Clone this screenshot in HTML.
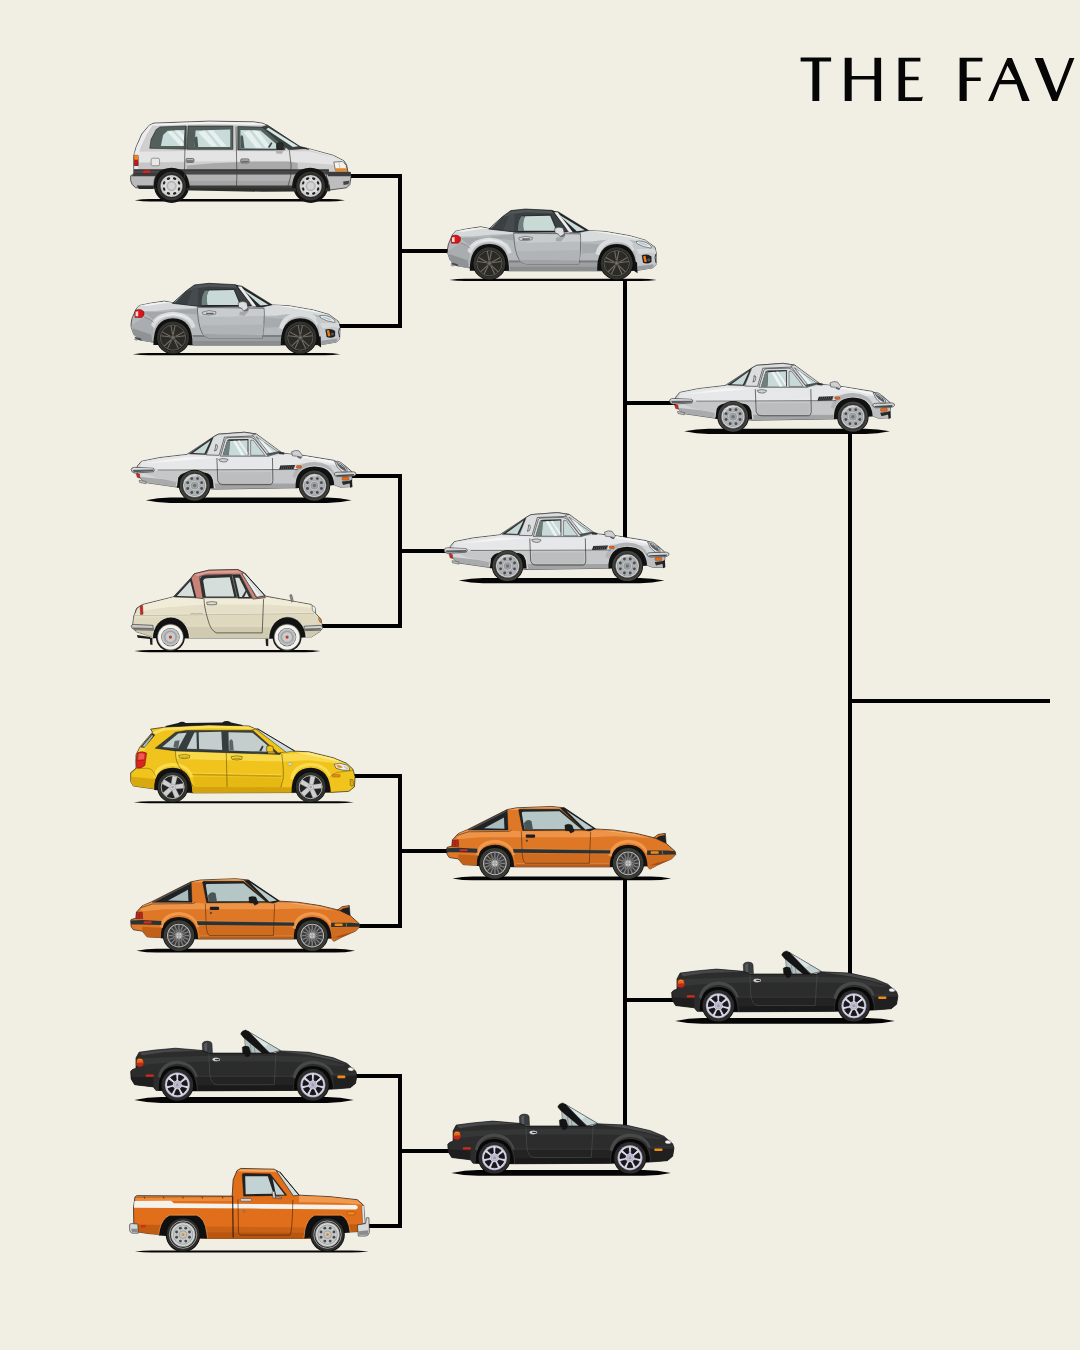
<!DOCTYPE html>
<html><head><meta charset="utf-8"><title>THE FAV</title>
<style>
html,body{margin:0;padding:0;background:#f1efe4;}
body{width:1080px;height:1350px;overflow:hidden;font-family:"Liberation Sans",sans-serif;}
svg{display:block}
</style></head><body>
<svg width="1080" height="1350" viewBox="0 0 1080 1350">
<rect width="1080" height="1350" fill="#f1efe4"/>
<defs>
<g id="c_mpv">
<path d="M66 406 Q101.0 400.5 136 400.5 L942 400.5 Q977.0 400.5 1012 406 Q977.0 411.5 942 411.5 L136 411.5 Q101.0 411.5 66 406 Z" fill="#050505"/>
<circle cx="232" cy="338" r="80" fill="#141414"/>
<circle cx="858" cy="338" r="80" fill="#141414"/>
<path d="M150 335 L950 335 L945 366 L640 368 L330 362 L160 358 Z" fill="#2e2e2c"/>
<path d="M62 272 L62 205 L72 168 L98 108 L132 68 L152 59 L400 50 L600 53 L640 59 L665 69 L808 165 L852 175 L960 204 L1008 229 L1020 247 L1025 276 L1025 290 L62 290 Z" fill="#cfcfcf" stroke="#1a1a1a" stroke-width="3"/>
<path d="M66 188 L300 184 L760 186 L850 186 L960 212 L1005 236 L1012 250 L960 246 L760 232 L300 232 L64 236 Z" fill="#e4e4e4"/>
<path d="M300 250 L420 240 L600 232 L760 232 L800 240 L800 270 L300 270 Z" fill="#a9a9a9"/>
<path d="M64 240 L300 236 L300 270 L62 272 Z" fill="#c6c6c6"/>
<path d="M135 68 L155 62 L400 53 L600 56 L640 62 L655 68 L400 62 L160 70 Z" fill="#f4f4f4"/>
<path d="M66 200 L74 168 L100 110 L132 70 L148 66 L120 110 L92 170 L84 200 Z" fill="#ececec"/>
<path d="M160 290 L930 290 L925 342 L640 342 L160 342 Z" fill="#b3b3b3"/>
<path d="M160 318 L930 318 L925 342 L160 342 Z" fill="#a4a4a4"/>
<path d="M62 268 L940 268 L940 289 L62 289 Z" fill="#484848"/>
<path d="M62 268 L940 268 L940 272 L62 272 Z" fill="#2a2a2a"/>
<path d="M160 340 L930 340 L930 352 L160 352 Z" fill="#3a3a3a"/>
<path d="M151 352 Q149 262 232 260 Q310 262 314 352 Z" fill="#141414"/>
<path d="M775 352 Q773 262 856 260 Q934 262 938 352 Z" fill="#141414"/>
<path d="M134 172 L140 132 L163 88 L180 76 L298 72 L298 176 Z" fill="#525f5b" stroke="#1a1a1a" stroke-width="2.5"/>
<path d="M306 72 L508 72 L508 177 L302 177 Z" fill="#525f5b" stroke="#1a1a1a" stroke-width="2.5"/>
<path d="M530 74 L640 77 L660 86 L745 168 L740 180 L530 180 Z" fill="#525f5b" stroke="#1a1a1a" stroke-width="2.5"/>
<path d="M184 162 L194 112 L214 93 L290 90 L286 162 Z" fill="#c9dbd8"/>
<path d="M336 166 L340 92 L496 88 L496 166 Z" fill="#c9dbd8"/>
<path d="M542 172 L542 90 L632 92 L702 152 L702 174 Z" fill="#c9dbd8"/>
<path d="M214 100 L232 93 L286 150 L286 162 L272 162 Z M246 92 L268 92 L288 114 L288 138Z" fill="#e6f1ef"/>
<path d="M352 100 L380 92 L440 164 L412 164 Z M395 92 L420 92 L480 164 L455 164Z" fill="#e6f1ef"/>
<path d="M556 100 L580 92 L640 170 L612 170 Z M596 92 L622 94 L680 170 L655 170Z" fill="#e6f1ef"/>
<path d="M336 166 L336 130 Q340 115 348 122 L352 166Z" fill="#4a5652"/>
<path d="M542 172 L542 120 Q548 108 554 120 L560 172Z" fill="#4a5652"/>
<path d="M665 168 L680 145 L686 148 L674 170Z" fill="#3a4643"/>
<path d="M640 76 L662 69 L812 165 L842 173 L760 179 L736 160 Z" fill="#3a4240" stroke="#1a1a1a" stroke-width="2"/>
<path d="M668 80 L802 163 L778 166 L658 87 Z" fill="#d9e8e5"/>
<path d="M706 150 Q720 142 733 150 L736 176 Q722 184 706 176 Z" fill="#2a2a2a" stroke="#111" stroke-width="2"/>
<path d="M700 182 L738 180 L728 198 L704 196Z" fill="#b0b0b0"/>
<path d="M296 74 L292 180 L290 300 L292 342" fill="none" stroke="#3a3a3a" stroke-width="3"/>
<path d="M522 74 L524 180 L526 300 L524 342" fill="none" stroke="#3a3a3a" stroke-width="3"/>
<path d="M762 182 L770 250 L768 300 L756 342" fill="none" stroke="#3a3a3a" stroke-width="3"/>
<path d="M808 168 L850 178" fill="none" stroke="#222" stroke-width="3"/>
<rect x="297" y="218" width="36" height="18" rx="6" fill="#b5b5b5" stroke="#2a2a2a" stroke-width="2.5"/>
<rect x="543" y="220" width="38" height="18" rx="6" fill="#b5b5b5" stroke="#2a2a2a" stroke-width="2.5"/>
<rect x="300" y="226" width="30" height="7" rx="3" fill="#6a6a6a"/>
<rect x="546" y="228" width="32" height="7" rx="3" fill="#6a6a6a"/>
<rect x="140" y="217" width="38" height="34" rx="7" fill="#e8e8e8" stroke="#555" stroke-width="2.5"/>
<rect x="64" y="204" width="18" height="48" rx="3" fill="#c8161a" stroke="#222" stroke-width="2"/>
<rect x="64" y="204" width="18" height="20" rx="3" fill="#f08a1c"/>
<rect x="66" y="252" width="16" height="14" rx="2" fill="#e9e9e9"/>
<rect x="104" y="272" width="32" height="11" rx="3" fill="#e02020"/>
<path d="M62 288 L165 288 Q150 310 152 350 L70 350 Q50 335 48 318 L48 296 Z" fill="#b9b9b9" stroke="#1a1a1a" stroke-width="3"/>
<path d="M62 288 L165 288 L160 298 L52 298Z" fill="#3c3c3c"/>
<path d="M75 340 L152 340 L152 356 L85 356 Z" fill="#2c2c2c"/>
<path d="M935 280 L1036 280 L1040 300 L1034 336 L1020 350 L945 360 Q940 320 928 296 Z" fill="#bdbdbd" stroke="#1a1a1a" stroke-width="3"/>
<path d="M930 279 L1037 279 L1040 298 L936 298 Z" fill="#3c3c3c"/>
<path d="M1004 322 L1032 318 L1028 334 L1006 338Z" fill="#444"/>
<path d="M962 234 L1004 232 L1018 250 L1022 274 L970 274 Z" fill="#f3f3ee" stroke="#222" stroke-width="2.5"/>
<path d="M968 262 L1020 262 L1022 274 L970 274 Z" fill="#f0861a"/>
<path d="M985 236 L990 262" fill="none" stroke="#888" stroke-width="2"/>
<path d="M852 178 L960 208 L1006 232" fill="none" stroke="#f2f2f2" stroke-width="4"/>
<circle cx="232" cy="342" r="68" fill="#0b0b0b"/>
<circle cx="232" cy="342" r="65" fill="#33332f"/>
<circle cx="232" cy="342" r="53" fill="#151515"/>
<circle cx="232" cy="342" r="50" fill="#d9d9d9" stroke="#555" stroke-width="2"/>
<circle cx="232" cy="342" r="44" fill="#c6c6c6"/>
<circle cx="232" cy="342" r="40" fill="#dcdcdc"/>
<ellipse cx="265.3" cy="355.8" rx="8" ry="5" fill="#222" transform="rotate(112.5 265.3 355.8)"/>
<ellipse cx="245.8" cy="375.3" rx="8" ry="5" fill="#222" transform="rotate(157.5 245.8 375.3)"/>
<ellipse cx="218.2" cy="375.3" rx="8" ry="5" fill="#222" transform="rotate(202.5 218.2 375.3)"/>
<ellipse cx="198.7" cy="355.8" rx="8" ry="5" fill="#222" transform="rotate(247.5 198.7 355.8)"/>
<ellipse cx="198.7" cy="328.2" rx="8" ry="5" fill="#222" transform="rotate(292.5 198.7 328.2)"/>
<ellipse cx="218.2" cy="308.7" rx="8" ry="5" fill="#222" transform="rotate(337.5 218.2 308.7)"/>
<ellipse cx="245.8" cy="308.7" rx="8" ry="5" fill="#222" transform="rotate(382.5 245.8 308.7)"/>
<ellipse cx="265.3" cy="328.2" rx="8" ry="5" fill="#222" transform="rotate(427.5 265.3 328.2)"/>
<circle cx="232" cy="342" r="21" fill="#bfbfbf" stroke="#8a8a8a" stroke-width="2"/>
<circle cx="232" cy="342" r="15" fill="#d5d5d5"/>
<circle cx="858" cy="342" r="68" fill="#0b0b0b"/>
<circle cx="858" cy="342" r="65" fill="#33332f"/>
<circle cx="858" cy="342" r="53" fill="#151515"/>
<circle cx="858" cy="342" r="50" fill="#d9d9d9" stroke="#555" stroke-width="2"/>
<circle cx="858" cy="342" r="44" fill="#c6c6c6"/>
<circle cx="858" cy="342" r="40" fill="#dcdcdc"/>
<ellipse cx="891.3" cy="355.8" rx="8" ry="5" fill="#222" transform="rotate(112.5 891.3 355.8)"/>
<ellipse cx="871.8" cy="375.3" rx="8" ry="5" fill="#222" transform="rotate(157.5 871.8 375.3)"/>
<ellipse cx="844.2" cy="375.3" rx="8" ry="5" fill="#222" transform="rotate(202.5 844.2 375.3)"/>
<ellipse cx="824.7" cy="355.8" rx="8" ry="5" fill="#222" transform="rotate(247.5 824.7 355.8)"/>
<ellipse cx="824.7" cy="328.2" rx="8" ry="5" fill="#222" transform="rotate(292.5 824.7 328.2)"/>
<ellipse cx="844.2" cy="308.7" rx="8" ry="5" fill="#222" transform="rotate(337.5 844.2 308.7)"/>
<ellipse cx="871.8" cy="308.7" rx="8" ry="5" fill="#222" transform="rotate(382.5 871.8 308.7)"/>
<ellipse cx="891.3" cy="328.2" rx="8" ry="5" fill="#222" transform="rotate(427.5 891.3 328.2)"/>
<circle cx="858" cy="342" r="21" fill="#bfbfbf" stroke="#8a8a8a" stroke-width="2"/>
<circle cx="858" cy="342" r="15" fill="#d5d5d5"/>

</g>
<g id="c_nc">
<path d="M58 379 Q93.0 374.0 128 374.0 L922 374.0 Q957.0 374.0 992 379 Q957.0 384.0 922 384.0 L128 384.0 Q93.0 384.0 58 379 Z" fill="#050505"/>
<path d="M50 240 L54 218 L72 176 L86 160 L140 149 L200 140 L240 148 L330 150 L545 160 L680 157 L760 161 L870 180 L940 200 L984 232 L990 262 L988 310 L975 324 L905 336 L740 338 L330 338 L160 326 L96 316 L62 290 L50 256 Z" fill="#b5b9bb" stroke="#1a1a1a" stroke-width="3"/>
<path d="M74 174 L88 160 L140 150 L200 142 L240 149 L346 164 L346 172 L240 176 L160 184 L84 184 Z" fill="#d6d9da"/>
<path d="M88 161 L140 151 L200 143 L236 149 L200 150 L120 162Z" fill="#f2f3f3"/>
<path d="M108 190 L200 188 L300 178 L346 174 L346 200 L300 196 L230 192 L180 200 L150 224 Z" fill="#a4a8aa"/>
<path d="M52 250 L110 212 L150 232 L146 326 L96 316 L62 290 L50 256Z" fill="#a9adaf"/>
<path d="M56 262 L140 290 L146 326 L96 316 L62 290Z" fill="#8f9395"/>
<path d="M140 250 Q150 196 238 188 Q322 192 340 256 L322 262 Q310 214 238 208 Q170 212 156 262 Z" fill="#d9dcdd"/>
<path d="M150 240 Q170 200 238 196 Q300 198 326 236 Q300 206 238 202 Q176 206 150 240Z" fill="#eceeee"/>
<path d="M650 166 L690 158 L760 162 L870 181 L940 201 L982 233 L940 214 L880 200 L800 196 L740 200 L700 206 L652 206 Z" fill="#d8dbdc"/>
<path d="M690 159 L760 163 L870 182 L936 202 L880 190 L800 176 Z" fill="#f1f2f2"/>
<path d="M653 214 L733 219 L718 256 L653 260 Z" fill="#a7abad"/>
<path d="M716 262 Q726 198 812 188 Q890 192 900 240 L884 250 Q870 210 812 208 Q746 212 734 268 Z" fill="#d9dcdd"/>
<path d="M896 210 L940 203 L982 234 L990 262 L988 310 L975 324 L905 336 L900 300 Q900 250 880 222 Z" fill="#c6c9cb"/>
<path d="M900 240 L984 240 L988 262 L960 256 L912 262Z" fill="#d6d9da"/>
<path d="M905 318 L978 308 L975 324 L905 336Z" fill="#9a9ea0"/>
<path d="M326 292 L744 292 L740 338 L330 338 Z" fill="#9ca0a2"/>
<path d="M326 292 L744 292 L744 301 L327 301 Z" fill="#7b7f81"/>
<path d="M328 320 L742 320 L740 338 L330 338 Z" fill="#8a8e90"/>
<path d="M150.5 338 Q148.5 218 238.5 217 Q328.5 218 326.5 338 Z" fill="#111"/>
<path d="M723.5 338 Q721.5 218 811.5 217 Q901.5 218 899.5 338 Z" fill="#111"/>
<path d="M348 168 Q350 250 372 288 Q385 306 410 308 L640 308 Q652 250 648 172 Z" fill="#b9bdbf" stroke="#333" stroke-width="2.5"/>
<path d="M351 172 L646 176 L648 206 L420 212 L356 204 Z" fill="#c9cccd"/>
<path d="M372 288 Q385 306 410 308 L640 308 L642 290 L376 288 Z" fill="#a0a4a6"/>
<path d="M360 250 L646 246 L644 290 L376 288 Z" fill="#b0b4b6"/>
<path d="M236 150 L298 94 L335 67 L400 60 L520 66 L548 80 L560 95 L590 162 L360 164 Z" fill="#3b4043" stroke="#141414" stroke-width="3"/>
<path d="M300 96 L336 70 L400 63 L518 69 L538 80 L400 74 L345 82 Z" fill="#4f5659"/>
<path d="M330 80 L352 80 L350 160 L300 156 Z" fill="#454b4e"/>
<path d="M240 148 L298 98 L284 110 L252 142 Z" fill="#a9bab8"/>
<path d="M366 162 Q362 110 385 88 L515 84 L548 162 Z" fill="#2b3032"/>
<path d="M392 158 Q384 112 400 92 L512 90 L540 158 Z" fill="#c8d9d6"/>
<path d="M367 160 Q364 120 382 92 L398 92 Q386 120 394 158Z" fill="#6f7f7c"/>
<path d="M366 162 L548 162" fill="none" stroke="#141414" stroke-width="3"/>
<path d="M522 70 L548 72 L684 156 L640 166 L600 165 Z" fill="#232628" stroke="#111" stroke-width="2"/>
<path d="M552 86 L668 156 L632 160 L570 104 Z" fill="#cbdcd9"/>
<path d="M530 74 L546 74 L614 164 L598 164 Z" fill="#ececec"/>
<path d="M532 148 Q550 136 570 146 L576 170 Q570 182 556 184 L548 172 L534 168 Z" fill="#dcdedf" stroke="#333" stroke-width="2.5"/>
<path d="M556 184 L576 170 L580 180 L562 192Z" fill="#6a6e70"/>
<path d="M540 188 L580 184 L560 206 L536 204Z" fill="#a4a8aa"/>
<path d="M370 190 Q400 176 432 188 L430 198 Q400 206 374 200 Z" fill="#d8dadb" stroke="#444" stroke-width="2.5"/>
<path d="M385 192 L422 192 L420 198 L388 199Z" fill="#5f6365"/>
<path d="M70 182 Q92 170 108 188 Q112 206 98 214 L68 214 Q62 198 70 182 Z" fill="#dc141a" stroke="#5a0a0a" stroke-width="2"/>
<path d="M70 188 L82 186 L82 208 L70 208Z" fill="#f8dada"/>
<path d="M110 212 Q140 222 152 236" fill="none" stroke="#6e7274" stroke-width="2.5"/>
<path d="M898 206 Q930 198 962 222 Q972 232 966 236 Q930 232 904 216 Z" fill="#eef3f4" stroke="#333" stroke-width="2.5"/>
<path d="M910 210 Q935 208 958 228 Q935 226 912 214Z" fill="#b3cad0"/>
<path d="M924 268 Q950 260 968 274 L968 298 Q950 310 930 302 Z" fill="#1e1e1e"/>
<path d="M930 272 L941 270 L947 298 L936 298Z" fill="#f07a1a"/>
<circle cx="956" cy="288" r="7" fill="#555"/>
<path d="M988 262 L984 278 L988 302" fill="none" stroke="#222" stroke-width="4"/>
<path d="M888 299 L903 299 L905 349 L892 340Z" fill="#111"/>
<path d="M66 300 L96 308 L96 318 L70 312Z" fill="#4a4a4a"/>
<path d="M66 306 L78 312 L76 320 L64 314Z" fill="#999"/>
<circle cx="238.5" cy="304" r="75" fill="#0b0b0b"/>
<circle cx="238.5" cy="304" r="72" fill="#34342f"/>
<circle cx="238.5" cy="304" r="61" fill="#151515"/>
<circle cx="238.5" cy="304" r="59" fill="#2b2a26"/>
<circle cx="238.5" cy="304" r="57" fill="none" stroke="#5f5d55" stroke-width="4"/>
<line x1="237.9" y1="295.0" x2="229.2" y2="249.8" stroke="#716e65" stroke-width="5"/>
<line x1="239.1" y1="295.0" x2="247.8" y2="249.8" stroke="#716e65" stroke-width="5"/>
<line x1="246.9" y1="300.6" x2="287.2" y2="278.4" stroke="#716e65" stroke-width="5"/>
<line x1="247.2" y1="301.8" x2="292.9" y2="296.1" stroke="#716e65" stroke-width="5"/>
<line x1="244.3" y1="310.9" x2="277.9" y2="342.4" stroke="#716e65" stroke-width="5"/>
<line x1="243.3" y1="311.6" x2="262.8" y2="353.3" stroke="#716e65" stroke-width="5"/>
<line x1="233.7" y1="311.6" x2="214.2" y2="353.3" stroke="#716e65" stroke-width="5"/>
<line x1="232.7" y1="310.9" x2="199.1" y2="342.4" stroke="#716e65" stroke-width="5"/>
<line x1="229.8" y1="301.8" x2="184.1" y2="296.1" stroke="#716e65" stroke-width="5"/>
<line x1="230.1" y1="300.6" x2="189.8" y2="278.4" stroke="#716e65" stroke-width="5"/>
<circle cx="238.5" cy="304" r="12" fill="#5b5951" stroke="#2a2924" stroke-width="2"/>
<circle cx="238.5" cy="304" r="5" fill="#77746a"/>
<circle cx="811.5" cy="304" r="75" fill="#0b0b0b"/>
<circle cx="811.5" cy="304" r="72" fill="#34342f"/>
<circle cx="811.5" cy="304" r="61" fill="#151515"/>
<circle cx="811.5" cy="304" r="59" fill="#2b2a26"/>
<circle cx="811.5" cy="304" r="57" fill="none" stroke="#5f5d55" stroke-width="4"/>
<line x1="810.9" y1="295.0" x2="802.2" y2="249.8" stroke="#716e65" stroke-width="5"/>
<line x1="812.1" y1="295.0" x2="820.8" y2="249.8" stroke="#716e65" stroke-width="5"/>
<line x1="819.9" y1="300.6" x2="860.2" y2="278.4" stroke="#716e65" stroke-width="5"/>
<line x1="820.2" y1="301.8" x2="865.9" y2="296.1" stroke="#716e65" stroke-width="5"/>
<line x1="817.3" y1="310.9" x2="850.9" y2="342.4" stroke="#716e65" stroke-width="5"/>
<line x1="816.3" y1="311.6" x2="835.8" y2="353.3" stroke="#716e65" stroke-width="5"/>
<line x1="806.7" y1="311.6" x2="787.2" y2="353.3" stroke="#716e65" stroke-width="5"/>
<line x1="805.7" y1="310.9" x2="772.1" y2="342.4" stroke="#716e65" stroke-width="5"/>
<line x1="802.8" y1="301.8" x2="757.1" y2="296.1" stroke="#716e65" stroke-width="5"/>
<line x1="803.1" y1="300.6" x2="762.8" y2="278.4" stroke="#716e65" stroke-width="5"/>
<circle cx="811.5" cy="304" r="12" fill="#5b5951" stroke="#2a2924" stroke-width="2"/>
<circle cx="811.5" cy="304" r="5" fill="#77746a"/>

</g>
<g id="c_cosmo">
<path d="M116 406 Q171.0 394.0 226 394.0 L932 394.0 Q987.0 394.0 1042 406 Q987.0 418.0 932 418.0 L226 418.0 Q171.0 418.0 116 406 Z" fill="#050505"/>
<path d="M78 252 L96 231 L180 214 L300 200 L420 121 L442 109 L560 100 L612 108 L722 190 L745 196 L830 205 L960 226 L1012 250 L1042 276 L1044 300 L1040 345 L992 347 L962 336 L790 350 L430 356 L250 346 L112 326 L86 302 L76 280 Z" fill="#d4d5d7" stroke="#1a1a1a" stroke-width="3"/>
<path d="M98 232 L180 216 L300 202 L440 205 L700 205 L745 198 L830 207 L958 228 L1008 250 L960 248 L820 240 L700 262 L170 264 L90 262 Z" fill="#e6e7e8"/>
<path d="M110 240 L300 212 L430 214 L300 226 Z" fill="#f4f4f5"/>
<path d="M750 200 L830 208 L955 230 L990 246 L900 228 Z" fill="#f6f6f7"/>
<path d="M86 300 L112 326 L250 346 L256 320 L200 312 Z" fill="#a9aaac"/>
<path d="M425 330 L795 330 L790 350 L430 356 Z" fill="#a2a3a5"/>
<path d="M170 274 L800 272 L800 330 L425 330 L420 300 L395 282 L290 282 L262 300 L256 325 L150 300 L100 280 Z" fill="#c6c7c9"/>
<path d="M960 290 L1042 300 L1040 345 L992 347 L962 336 Z" fill="#bdbec0"/>
<path d="M256 350 L262 305 Q275 282 300 282 L385 282 Q410 286 418 315 L422 352 Z" fill="#121212"/>
<path d="M790 352 Q786 256 875 254 Q960 256 964 338 Z" fill="#121212"/>
<path d="M776 300 Q790 236 875 234 Q950 238 968 290 L960 296 Q944 254 875 250 Q806 254 792 306Z" fill="#b2b4b6"/>
<path d="M170 270 L800 268" fill="none" stroke="#3a3a3a" stroke-width="3"/>
<path d="M170 265 L800 263" fill="none" stroke="#f5f5f5" stroke-width="3"/>
<path d="M312 197 L418 124 L410 150 L385 200 Z" fill="#2a2e30" stroke="#141414" stroke-width="2"/>
<path d="M328 194 L408 136 L380 196 Z" fill="#c7d9d6"/>
<path d="M420 121 L442 109 L560 100 L612 108 L620 116 L470 122 L446 204 L388 202 Z" fill="#dcdddf" stroke="#1a1a1a" stroke-width="2.5"/>
<path d="M428 158 Q440 150 438 170 Q436 186 424 184 M432 156 L426 184" fill="none" stroke="#444" stroke-width="3"/>
<path d="M452 208 L474 132 Q478 124 490 124 L585 122 Q600 124 610 136 L668 208 Z" fill="#d9d9db" stroke="#222" stroke-width="2.5"/>
<path d="M462 204 L482 138 Q486 132 494 132 L578 130 L578 204 Z" fill="#2b3032"/>
<path d="M490 204 L494 140 L574 136 L574 204 Z" fill="#c8dad7"/>
<path d="M462 204 L482 138 L494 136 L490 204Z" fill="#6f7f7c"/>
<path d="M508 140 L520 138 L560 204 L545 204Z M530 138 L538 137 L574 190 L574 204Z" fill="#ecf4f3"/>
<path d="M588 136 L600 136 L652 204 L588 204 Z" fill="#c8dad7" stroke="#222" stroke-width="2"/>
<path d="M596 112 L614 108 L726 190 L668 208 Z" fill="#d4d5d7" stroke="#141414" stroke-width="2"/>
<path d="M612 120 L714 190 L676 202 Z" fill="#c9dbd8" stroke="#2a2e30" stroke-width="2"/>
<path d="M622 128 L644 142 L694 196 L680 200Z" fill="#ecf4f3"/>
<path d="M660 196 L716 186 L722 192 L668 206Z" fill="#4a5254"/>
<path d="M712 186 L740 192 L738 200 L716 198Z" fill="#333"/>
<path d="M436 216 L440 318 Q444 336 462 336 L676 336 Q688 334 688 318 L686 216" fill="none" stroke="#2e2e2e" stroke-width="3"/>
<path d="M446 280 L680 280 L680 320 Q678 330 668 330 L462 330 Q448 330 446 318Z" fill="#bcbdbf"/>
<path d="M444 222 Q465 214 486 222 Q486 234 466 234 Q446 234 444 222Z" fill="#d0d1d3" stroke="#333" stroke-width="2.5"/>
<path d="M722 250 L788 248 L782 266 L716 268 Z" fill="#1f1f1f"/>
<path d="M731 250 L725 266" fill="none" stroke="#9a9a9a" stroke-width="2"/>
<path d="M740 250 L734 266" fill="none" stroke="#9a9a9a" stroke-width="2"/>
<path d="M749 250 L743 266" fill="none" stroke="#9a9a9a" stroke-width="2"/>
<path d="M758 250 L752 266" fill="none" stroke="#9a9a9a" stroke-width="2"/>
<path d="M767 250 L761 266" fill="none" stroke="#9a9a9a" stroke-width="2"/>
<path d="M776 250 L770 266" fill="none" stroke="#9a9a9a" stroke-width="2"/>
<path d="M785 250 L779 266" fill="none" stroke="#9a9a9a" stroke-width="2"/>
<rect x="794" y="250" width="22" height="12" rx="4" fill="#e8641a" stroke="#5a2a0a" stroke-width="1.5"/>
<path d="M772 188 Q790 178 806 184 L822 206 L812 216 L796 208 L776 206Z" fill="#cfd0d2" stroke="#333" stroke-width="2.5"/>
<path d="M800 206 L818 212 L814 220 L798 214Z" fill="#666"/>
<path d="M50 268 Q52 258 66 258 L150 262 Q160 270 150 278 L66 284 Q52 282 50 268Z" fill="#c9cacc" stroke="#1a1a1a" stroke-width="2.5"/>
<path d="M58 270 L150 268 L150 276 L62 280Z" fill="#5a5b5d"/>
<path d="M58 263 L148 264" fill="none" stroke="#f5f5f5" stroke-width="2.5"/>
<path d="M72 286 L88 288 L90 306 L78 304Z" fill="#d9211d" stroke="#333" stroke-width="1.5"/>
<path d="M86 316 L118 322 L116 332 L88 326Z" fill="#bdbdbd" stroke="#333" stroke-width="2"/>
<path d="M964 288 Q966 280 978 280 L1052 278 Q1066 282 1062 290 Q1058 298 1046 298 L978 300 Q966 298 964 288Z" fill="#d5d6d8" stroke="#1a1a1a" stroke-width="2.5"/>
<path d="M972 292 L1054 288 L1050 296 L976 298Z" fill="#4a4b4d"/>
<path d="M966 232 Q990 226 1010 250 Q1026 268 1022 278 L1000 278 Q975 262 966 232Z" fill="#e9eeee" stroke="#1a1a1a" stroke-width="2.5"/>
<path d="M972 234 Q996 236 1010 256 Q1020 270 1016 276 Q984 264 972 234Z" fill="#596063"/>
<path d="M980 240 Q996 244 1006 258" fill="none" stroke="#fff" stroke-width="2.5"/>
<rect x="1000" y="302" width="30" height="14" rx="4" fill="#ee6a14" stroke="#5a2a0a" stroke-width="1.5"/>
<path d="M998 322 L1034 318 L1036 330 L1004 338Z" fill="#2a2a2a"/>
<path d="M1032 318 L1044 314 L1046 346 L1036 350Z" fill="#1f1f1f"/>
<circle cx="336" cy="340" r="71" fill="#0b0b0b"/>
<circle cx="336" cy="340" r="68" fill="#3a3a36"/>
<circle cx="336" cy="340" r="55" fill="#151515"/>
<circle cx="336" cy="340" r="64" fill="none" stroke="#4a4a45" stroke-width="3"/>
<circle cx="336" cy="340" r="53" fill="#d9dadb" stroke="#555" stroke-width="2"/>
<circle cx="336" cy="340" r="47" fill="#8f9294"/>
<circle cx="336" cy="340" r="45" fill="#aeb1b3"/>
<circle cx="367.4" cy="353.0" r="6.5" fill="#4a4d50"/>
<circle cx="349.0" cy="371.4" r="6.5" fill="#4a4d50"/>
<circle cx="323.0" cy="371.4" r="6.5" fill="#4a4d50"/>
<circle cx="304.6" cy="353.0" r="6.5" fill="#4a4d50"/>
<circle cx="304.6" cy="327.0" r="6.5" fill="#4a4d50"/>
<circle cx="323.0" cy="308.6" r="6.5" fill="#4a4d50"/>
<circle cx="349.0" cy="308.6" r="6.5" fill="#4a4d50"/>
<circle cx="367.4" cy="327.0" r="6.5" fill="#4a4d50"/>
<circle cx="336" cy="340" r="24" fill="#c4c6c8" stroke="#85888a" stroke-width="2"/>
<circle cx="336" cy="340" r="16" fill="#a2a5a7" stroke="#7a7d80" stroke-width="2"/>
<circle cx="336" cy="340" r="8" fill="#6f7275"/>
<path d="M296 320 A45 45 0 0 1 346 296" fill="none" stroke="#e6e7e8" stroke-width="4"/>
<circle cx="875" cy="340" r="71" fill="#0b0b0b"/>
<circle cx="875" cy="340" r="68" fill="#3a3a36"/>
<circle cx="875" cy="340" r="55" fill="#151515"/>
<circle cx="875" cy="340" r="64" fill="none" stroke="#4a4a45" stroke-width="3"/>
<circle cx="875" cy="340" r="53" fill="#d9dadb" stroke="#555" stroke-width="2"/>
<circle cx="875" cy="340" r="47" fill="#8f9294"/>
<circle cx="875" cy="340" r="45" fill="#aeb1b3"/>
<circle cx="906.4" cy="353.0" r="6.5" fill="#4a4d50"/>
<circle cx="888.0" cy="371.4" r="6.5" fill="#4a4d50"/>
<circle cx="862.0" cy="371.4" r="6.5" fill="#4a4d50"/>
<circle cx="843.6" cy="353.0" r="6.5" fill="#4a4d50"/>
<circle cx="843.6" cy="327.0" r="6.5" fill="#4a4d50"/>
<circle cx="862.0" cy="308.6" r="6.5" fill="#4a4d50"/>
<circle cx="888.0" cy="308.6" r="6.5" fill="#4a4d50"/>
<circle cx="906.4" cy="327.0" r="6.5" fill="#4a4d50"/>
<circle cx="875" cy="340" r="24" fill="#c4c6c8" stroke="#85888a" stroke-width="2"/>
<circle cx="875" cy="340" r="16" fill="#a2a5a7" stroke="#7a7d80" stroke-width="2"/>
<circle cx="875" cy="340" r="8" fill="#6f7275"/>
<path d="M835 320 A45 45 0 0 1 885 296" fill="none" stroke="#e6e7e8" stroke-width="4"/>

</g>
<g id="c_r360">
<path d="M64 410 Q99.0 404.5 134 404.5 L832 404.5 Q867.0 404.5 902 410 Q867.0 415.5 832 415.5 L134 415.5 Q99.0 415.5 64 410 Z" fill="#050505"/>
<path d="M62 252 L76 216 L102 200 L240 166 L320 80 L334 62 L400 46 L530 43 L556 56 L652 162 L770 184 L860 200 L876 216 L880 240 L904 266 L910 296 L900 322 L862 346 L830 346 L655 351 L320 351 L146 346 L72 322 L56 300 Z" fill="#e4dfc6" stroke="#1a1a1a" stroke-width="3"/>
<path d="M104 202 L240 168 L372 172 L648 166 L770 186 L858 202 L872 216 L780 208 L650 200 L380 200 L200 214 L82 232 Z" fill="#f0ecd8"/>
<path d="M62 262 L380 250 L870 244 L882 250 L904 270 L908 296 L62 296 Z" fill="#ddd8be"/>
<path d="M72 300 L905 300 L900 322 L862 346 L830 346 L655 351 L320 351 L146 346 L72 322Z" fill="#cfcab0"/>
<path d="M146 352 A83 95 0 0 1 312 352 Z" fill="#121212"/>
<path d="M670 354 A83 95 0 0 1 837 348 Z" fill="#121212"/>
<path d="M146 352 A83 95 0 0 1 312 352" fill="none" stroke="#f6f3e4" stroke-width="3"/>
<path d="M670 354 A83 95 0 0 1 837 348" fill="none" stroke="#f6f3e4" stroke-width="3"/>
<path d="M64 250 L380 246 L872 240" fill="none" stroke="#8a8670" stroke-width="2"/>
<path d="M64 247 L380 243 L872 237" fill="none" stroke="#faf8ee" stroke-width="2"/>
<path d="M320 82 L334 62 L400 46 L530 43 L556 56 L612 168 L650 162 L654 170 L598 176 L540 66 L380 68 L358 76 L374 174 L340 170 Z" fill="#c88278" stroke="#1a1a1a" stroke-width="2.5"/>
<path d="M340 64 L400 50 L528 47 L548 56 L400 58 L345 72Z" fill="#dda096"/>
<path d="M242 166 L320 82 L342 170 Z" fill="#2a2e30" stroke="#1a1a1a" stroke-width="2"/>
<path d="M256 162 L316 96 L334 164 Z" fill="#d6dedc"/>
<path d="M374 170 L360 86 Q364 72 382 70 L502 66 L526 170 Z" fill="#2d3133" stroke="#1a1a1a" stroke-width="2"/>
<path d="M386 164 L374 92 Q378 82 392 82 L494 78 L514 164 Z" fill="#d6dedc"/>
<path d="M506 68 L540 68 L594 172 L530 172 Z" fill="#2d3133" stroke="#1a1a1a" stroke-width="2"/>
<path d="M518 80 L536 80 L580 166 L538 166 Z" fill="#d6dedc"/>
<path d="M548 166 L566 136 L572 140 L558 168Z" fill="#333"/>
<path d="M548 60 L560 58 L652 160 L616 168 Z" fill="#d8e1df" stroke="#1a1a1a" stroke-width="2.5"/>
<path d="M560 58 L652 160" fill="none" stroke="#111" stroke-width="4"/>
<path d="M566 84 L580 96 L628 160 L618 162Z" fill="#eef3f2"/>
<path d="M378 174 Q378 210 396 270 Q408 318 434 328 L640 328 L646 176" fill="none" stroke="#2e2e2e" stroke-width="3"/>
<path d="M390 190 Q412 184 436 190 L434 200 Q412 204 392 200Z" fill="#d8d8d4" stroke="#333" stroke-width="2.5"/>
<path d="M316 243 Q330 238 345 243 Q360 238 374 243" fill="none" stroke="#7a7660" stroke-width="2"/>
<path d="M90 206 L102 204 L104 244 L92 246Z" fill="#d6231f" stroke="#333" stroke-width="1.5"/>
<path d="M70 236 Q66 222 84 212" fill="none" stroke="#333" stroke-width="2"/>
<path d="M50 296 Q52 290 64 290 L148 294 L150 316 L66 314 Q52 310 50 296Z" fill="#c9cac8" stroke="#1a1a1a" stroke-width="2.5"/>
<path d="M56 304 L148 306 L148 314 L62 312Z" fill="#6a6b69"/>
<path d="M76 338 L136 346 L136 356 L80 350Z" fill="#1a1a1a"/>
<path d="M828 298 L900 294 Q912 296 912 304 Q912 314 900 316 L830 318Z" fill="#d0d1cf" stroke="#1a1a1a" stroke-width="2.5"/>
<path d="M832 308 L904 306 L902 314 L832 316Z" fill="#6a6b69"/>
<path d="M864 206 Q876 204 880 218 L880 236 Q872 238 866 226Z" fill="#e8ece9" stroke="#333" stroke-width="2"/>
<path d="M894 258 Q904 260 906 272 L904 282 Q896 280 894 268Z" fill="#e9841c" stroke="#333" stroke-width="1.5"/>
<path d="M764 160 Q770 148 774 160 L780 184 L772 190Z" fill="#8a8a86" stroke="#222" stroke-width="1.5"/>
<path d="M134 350 L146 350 L146 382 L136 380Z" fill="#1f1f1f"/>
<path d="M655 354 L667 354 L667 388 L657 386Z" fill="#1f1f1f"/>
<circle cx="227" cy="347" r="65" fill="#0f0f0f"/>
<circle cx="227" cy="347" r="61" fill="#2f2f2c"/>
<circle cx="227" cy="347" r="57" fill="#f4f3ee" stroke="#999" stroke-width="1.5"/>
<circle cx="227" cy="347" r="41" fill="#1a1a1a"/>
<circle cx="227" cy="347" r="38" fill="#bfc1c1" stroke="#e9e9e6" stroke-width="3"/>
<circle cx="227" cy="347" r="30" fill="#a4a8a9"/>
<circle cx="227" cy="347" r="24" fill="#c9cccc" stroke="#868a8b" stroke-width="2"/>
<circle cx="227" cy="347" r="7" fill="#d0342c"/>
<circle cx="752" cy="347" r="65" fill="#0f0f0f"/>
<circle cx="752" cy="347" r="61" fill="#2f2f2c"/>
<circle cx="752" cy="347" r="57" fill="#f4f3ee" stroke="#999" stroke-width="1.5"/>
<circle cx="752" cy="347" r="41" fill="#1a1a1a"/>
<circle cx="752" cy="347" r="38" fill="#bfc1c1" stroke="#e9e9e6" stroke-width="3"/>
<circle cx="752" cy="347" r="30" fill="#a4a8a9"/>
<circle cx="752" cy="347" r="24" fill="#c9cccc" stroke="#868a8b" stroke-width="2"/>
<circle cx="752" cy="347" r="7" fill="#d0342c"/>

</g>
<g id="c_p5">
<path d="M62 415 Q97.0 410.5 132 410.5 L982 410.5 Q1017.0 410.5 1052 415 Q1017.0 419.5 982 419.5 L132 419.5 Q97.0 419.5 62 415 Z" fill="#050505"/>
<path d="M205 72 L262 58 Q280 48 296 58 L460 56 Q480 44 500 56 L552 68 L552 76 L205 80Z" fill="#1c1c1c"/>
<path d="M48 322 L48 282 L72 262 L72 202 L90 166 L146 100 L138 86 L196 78 L400 68 L580 72 L612 86 L782 185 L850 188 L960 215 L1020 240 L1048 266 L1058 300 L1055 346 L1030 366 L950 371 L330 373 L160 356 L60 342 Z" fill="#f0c41c" stroke="#1a1a1a" stroke-width="3"/>
<path d="M146 100 L196 80 L400 70 L578 74 L606 86 L400 82 L200 92 L160 108 Z" fill="#f9e060"/>
<path d="M76 200 L92 168 L146 104 L160 110 L120 160 L104 200Z" fill="#f7d640"/>
<path d="M250 184 L478 186 L728 198 L850 192 L958 217 L1016 242 L960 238 L850 226 L730 232 L480 226 L252 220 Z" fill="#f8d94a"/>
<path d="M790 190 L850 191 L956 217 L1000 236 L900 214Z" fill="#fbe886"/>
<path d="M50 300 L160 310 L160 356 L60 342 L48 322Z" fill="#d9a80e"/>
<path d="M325 345 L730 348 L950 352 L950 371 L330 373Z" fill="#d4a20c"/>
<path d="M330 300 L725 306 L725 346 L335 346Z" fill="#e6b814"/>
<path d="M322 286 L726 294 L726 302 L326 294Z" fill="#c99c10"/>
<path d="M322 284 L726 292" fill="none" stroke="#fae27a" stroke-width="2.5"/>
<path d="M154 360 Q150 262 237 260 Q322 262 326 372 Z" fill="#121212"/>
<path d="M772 372 Q770 262 858 260 Q944 262 948 370 Z" fill="#121212"/>
<path d="M150 300 Q160 240 237 238 Q310 240 330 300 L318 304 Q304 256 237 252 Q172 256 162 306Z" fill="#f8dc50"/>
<path d="M766 310 Q776 240 858 238 Q930 240 950 296 L940 300 Q920 254 858 252 Q790 256 780 312Z" fill="#f8dc50"/>
<path d="M158 172 L250 100 L300 92 L600 92 L618 100 L724 192 L720 200 L250 184 Z" fill="#353d3f" stroke="#141414" stroke-width="2"/>
<path d="M190 166 L262 106 L300 102 L262 172 Z" fill="#c3cecd"/>
<path d="M300 174 L334 102 L344 100 L346 176Z" fill="#c3cecd"/>
<path d="M356 176 L354 100 L456 98 L460 180 Z" fill="#c3cecd"/>
<path d="M490 182 L488 100 L596 102 L664 160 L664 188 Z" fill="#c3cecd"/>
<path d="M492 182 L492 140 Q500 124 508 140 L512 182Z" fill="#5b6664"/>
<path d="M240 168 L246 140 L268 136 L262 172Z" fill="#5b6664"/>
<path d="M626 184 L640 160 L646 164 L636 186Z" fill="#333"/>
<path d="M596 90 L614 85 L750 188 L712 194 Z" fill="#f0c41c" stroke="#3a2c04" stroke-width="2"/>
<path d="M612 86 L622 86 L784 184 L748 190 Z" fill="#cfdcda" stroke="#1a1a1a" stroke-width="2"/>
<path d="M618 84 L786 184" fill="none" stroke="#111" stroke-width="4"/>
<path d="M92 168 L146 104 L158 112 L110 170Z" fill="#2a2d2f"/>
<path d="M100 164 L144 112 L150 116 L112 166Z" fill="#a9b8b6"/>
<path d="M660 164 Q674 156 688 164 L692 184 Q676 194 660 186Z" fill="#f0c41c" stroke="#222" stroke-width="2.5"/>
<path d="M664 186 L690 186 L700 196 L668 196Z" fill="#c99c10"/>
<path d="M250 184 Q248 230 270 260 Q310 310 330 346" fill="none" stroke="#5a4608" stroke-width="2.5"/>
<path d="M478 186 L482 346" fill="none" stroke="#5a4608" stroke-width="2.5"/>
<path d="M728 198 Q738 270 734 310 L724 348" fill="none" stroke="#5a4608" stroke-width="2.5"/>
<path d="M264 204 Q290 196 314 204 L312 216 Q290 222 268 216Z" fill="#f4cf30" stroke="#5a4608" stroke-width="2.5"/>
<path d="M500 210 Q526 202 550 210 L548 222 Q526 228 504 222Z" fill="#f4cf30" stroke="#5a4608" stroke-width="2.5"/>
<path d="M276 212 L306 212 M512 218 L542 218" fill="none" stroke="#9a7a0a" stroke-width="3"/>
<path d="M78 192 Q100 182 120 194 L112 250 Q98 264 76 262 L72 230Z" fill="#d7261f" stroke="#4a0a0a" stroke-width="2"/>
<path d="M84 198 Q98 192 110 198 L108 222 L82 224Z" fill="#ee5a50"/>
<path d="M76 228 L110 226" fill="none" stroke="#8a1010" stroke-width="2"/>
<path d="M50 284 L72 264 L120 262 Q150 262 160 300" fill="none" stroke="#8a6c08" stroke-width="2.5"/>
<path d="M964 244 Q990 234 1020 248 Q1036 258 1034 272 Q1000 274 972 262 Z" fill="#eef2f2" stroke="#222" stroke-width="2.5"/>
<path d="M974 248 Q992 244 1004 258 Q992 264 978 258Z" fill="#e9941c"/>
<path d="M1004 250 Q1024 256 1030 268 Q1012 268 1004 250Z" fill="#b8c8cc"/>
<rect x="955" y="290" width="36" height="12" rx="5" fill="#e98618" stroke="#7a4a08" stroke-width="1.5"/>
<path d="M1036 312 Q1050 310 1052 322 L1050 342 Q1040 346 1036 338Z" fill="#d9a80e" stroke="#5a4608" stroke-width="2"/>
<path d="M948 300 Q960 280 1000 278 L1050 272" fill="none" stroke="#8a6c08" stroke-width="2.5"/>
<ellipse cx="765" cy="243" rx="10" ry="5" fill="#e8eef2" stroke="#4a6a9a" stroke-width="1.5"/>
<circle cx="237" cy="347" r="70" fill="#0b0b0b"/>
<circle cx="237" cy="347" r="67" fill="#33332f"/>
<circle cx="237" cy="347" r="55" fill="#151515"/>
<circle cx="237" cy="347" r="53" fill="#222"/>
<circle cx="237" cy="347" r="52" fill="none" stroke="#c9c9c9" stroke-width="4"/>
<path d="M229.7 336.3 L247.9 340.0 L257.8 300.4 L236.0 296.0 Z" fill="#cfcfcf" stroke="#8a8a8a" stroke-width="1.5"/>
<path d="M244.9 336.7 L247.1 355.2 L287.7 352.4 L285.2 330.3 Z" fill="#cfcfcf" stroke="#8a8a8a" stroke-width="1.5"/>
<path d="M249.2 351.4 L232.3 359.1 L247.5 396.9 L267.8 387.7 Z" fill="#cfcfcf" stroke="#8a8a8a" stroke-width="1.5"/>
<path d="M236.6 360.0 L224.0 346.3 L192.8 372.5 L207.9 388.9 Z" fill="#cfcfcf" stroke="#8a8a8a" stroke-width="1.5"/>
<path d="M224.5 350.7 L233.7 334.4 L199.1 312.8 L188.2 332.2 Z" fill="#cfcfcf" stroke="#8a8a8a" stroke-width="1.5"/>
<circle cx="237" cy="347" r="13" fill="#d9d9d9" stroke="#8a8a8a" stroke-width="2"/>
<circle cx="237" cy="347" r="6" fill="#a0a0a0"/>
<circle cx="858" cy="347" r="70" fill="#0b0b0b"/>
<circle cx="858" cy="347" r="67" fill="#33332f"/>
<circle cx="858" cy="347" r="55" fill="#151515"/>
<circle cx="858" cy="347" r="53" fill="#222"/>
<circle cx="858" cy="347" r="52" fill="none" stroke="#c9c9c9" stroke-width="4"/>
<path d="M850.7 336.3 L868.9 340.0 L878.8 300.4 L857.0 296.0 Z" fill="#cfcfcf" stroke="#8a8a8a" stroke-width="1.5"/>
<path d="M865.9 336.7 L868.1 355.2 L908.7 352.4 L906.2 330.3 Z" fill="#cfcfcf" stroke="#8a8a8a" stroke-width="1.5"/>
<path d="M870.2 351.4 L853.3 359.1 L868.5 396.9 L888.8 387.7 Z" fill="#cfcfcf" stroke="#8a8a8a" stroke-width="1.5"/>
<path d="M857.6 360.0 L845.0 346.3 L813.8 372.5 L828.9 388.9 Z" fill="#cfcfcf" stroke="#8a8a8a" stroke-width="1.5"/>
<path d="M845.5 350.7 L854.7 334.4 L820.1 312.8 L809.2 332.2 Z" fill="#cfcfcf" stroke="#8a8a8a" stroke-width="1.5"/>
<circle cx="858" cy="347" r="13" fill="#d9d9d9" stroke="#8a8a8a" stroke-width="2"/>
<circle cx="858" cy="347" r="6" fill="#a0a0a0"/>

</g>
<g id="c_rx7">
<path d="M74 408 Q119.0 399.5 164 399.5 L968 399.5 Q1013.0 399.5 1058 408 Q1013.0 416.5 968 416.5 L164 416.5 Q119.0 416.5 74 408 Z" fill="#050505"/>
<path d="M975 228 L1000 210 L1032 205 L1036 252 L990 240Z" fill="#1d1f20" stroke="#111" stroke-width="2"/>
<path d="M978 226 L1000 210 L1030 206 L1030 214 L1004 218 L986 232Z" fill="#e07a28" stroke="#222" stroke-width="1.5"/>
<path d="M48 276 L50 268 L72 262 L74 234 L100 206 L142 188 L320 98 L362 90 L520 84 L576 90 L716 185 L800 190 L900 205 L986 226 L1036 250 L1076 286 L1079 300 L1060 320 L1000 346 L962 366 L950 352 L780 356 L360 356 L196 350 L122 346 L100 320 L60 314 L50 300 Z" fill="#de7826" stroke="#1a1a1a" stroke-width="3"/>
<path d="M102 206 L142 190 L325 192 L385 196 L695 196 L716 188 L800 192 L898 207 L984 228 L900 222 L800 218 L700 222 L390 222 L200 222 L90 232Z" fill="#ee9448"/>
<path d="M724 188 L800 192 L898 207 L960 222 L860 208Z" fill="#f6b070"/>
<path d="M322 100 L362 92 L520 86 L574 92 L590 102 L520 96 L370 100 Z" fill="#f2a055"/>
<path d="M100 300 L196 306 L196 350 L122 346 L100 320Z" fill="#c2601a"/>
<path d="M352 296 L790 300 L780 356 L360 356Z" fill="#cf6c20"/>
<path d="M360 340 L780 340 L780 356 L360 356Z" fill="#b85a16"/>
<path d="M360 342 L780 342" fill="none" stroke="#f0a868" stroke-width="3"/>
<path d="M950 304 L1076 302 L1060 320 L1000 346 L962 366 L950 352Z" fill="#cf6c20"/>
<path d="M960 350 L1000 346 L1050 324 L1000 336 Z" fill="#a84e10"/>
<path d="M184 352 Q180 258 265 256 Q348 258 352 356 Z" fill="#121212"/>
<path d="M782 356 Q780 258 865 256 Q948 258 952 352 Z" fill="#121212"/>
<path d="M180 300 Q190 238 265 234 Q336 238 356 300 L346 304 Q330 252 265 248 Q202 252 192 306Z" fill="#f0994c"/>
<path d="M776 306 Q790 238 865 234 Q936 238 954 290 L944 294 Q926 252 865 248 Q802 252 790 310Z" fill="#f0994c"/>
<path d="M96 214 L146 198 L330 196 L340 190" fill="none" stroke="#4a3a2a" stroke-width="3"/>
<path d="M346 274 L784 280 L784 296 L350 292Z" fill="#2a3235"/>
<path d="M346 274 L784 280" fill="none" stroke="#f2a055" stroke-width="2"/>
<path d="M146 190 L320 100 L324 190 Z" fill="#1f2325" stroke="#111" stroke-width="2"/>
<path d="M216 182 L306 134 L308 184 Z" fill="#a9bbbc"/>
<path d="M150 190 L318 104" fill="none" stroke="#8a9a9a" stroke-width="2"/>
<path d="M372 100 Q372 96 380 96 L556 96 L664 190 L390 192 Z" fill="#1f2325" stroke="#111" stroke-width="2"/>
<path d="M398 186 L386 114 Q386 108 394 108 L556 106 L654 186 Z" fill="#b4c6c6"/>
<path d="M398 186 L396 160 Q410 136 430 150 L436 186Z" fill="#4a5556"/>
<path d="M560 92 L578 90 L718 184 L690 194 L664 190Z" fill="#1c1f21" stroke="#111" stroke-width="2"/>
<path d="M586 102 L706 182 L672 188Z" fill="#b9cbcb"/>
<path d="M580 168 Q596 160 612 168 L622 196 L606 204 L600 194 L582 192Z" fill="#1c1c1c" stroke="#000" stroke-width="1.5"/>
<path d="M384 196 L388 300 Q392 336 404 340 L690 340 L696 198" fill="none" stroke="#4a2208" stroke-width="2.5"/>
<rect x="404" y="210" width="42" height="15" rx="5" fill="#1c1f21"/>
<circle cx="409" cy="238" r="4" fill="#444" stroke="#222" stroke-width="1"/>
<path d="M74 236 L100 234 L102 264 L72 264Z" fill="#c8281e" stroke="#222" stroke-width="2"/>
<path d="M74 246 L100 245 M74 255 L100 254 M86 236 L86 264" fill="none" stroke="#7a1208" stroke-width="1.5"/>
<path d="M48 272 L100 270 L186 274 L186 292 L100 290 L50 290Z" fill="#2a3235"/>
<rect x="106" y="276" width="36" height="10" rx="3" fill="#d82a1e"/>
<path d="M950 282 L1040 282 L1076 286 L1079 300 L950 302Z" fill="#2a3235"/>
<rect x="966" y="286" width="36" height="11" rx="3" fill="#f08a1c"/>
<path d="M1018 284 L1020 300" fill="none" stroke="#de7826" stroke-width="3"/>
<path d="M716 188 L800 192 L900 207 L986 228" fill="none" stroke="#7a3a0a" stroke-width="2"/>
<circle cx="265" cy="340" r="72" fill="#0b0b0b"/>
<circle cx="265" cy="340" r="69" fill="#3a3a35"/>
<circle cx="265" cy="340" r="55" fill="#151515"/>
<circle cx="265" cy="340" r="53" fill="#3a3a3a"/>
<circle cx="265" cy="340" r="51" fill="none" stroke="#b9b9b9" stroke-width="5"/>
<path d="M279.0 340.0 L308.2 360.9 M279.0 340.0 L308.2 319.1" stroke="#9c9c9c" stroke-width="2.6" fill="none"/>
<path d="M277.9 345.4 L296.9 375.8 M277.9 345.4 L312.9 337.3" stroke="#9c9c9c" stroke-width="2.6" fill="none"/>
<path d="M274.9 349.9 L280.8 385.3 M274.9 349.9 L310.3 355.8" stroke="#9c9c9c" stroke-width="2.6" fill="none"/>
<path d="M270.4 352.9 L262.3 387.9 M270.4 352.9 L300.8 371.9" stroke="#9c9c9c" stroke-width="2.6" fill="none"/>
<path d="M265.0 354.0 L244.1 383.2 M265.0 354.0 L285.9 383.2" stroke="#9c9c9c" stroke-width="2.6" fill="none"/>
<path d="M259.6 352.9 L229.2 371.9 M259.6 352.9 L267.7 387.9" stroke="#9c9c9c" stroke-width="2.6" fill="none"/>
<path d="M255.1 349.9 L219.7 355.8 M255.1 349.9 L249.2 385.3" stroke="#9c9c9c" stroke-width="2.6" fill="none"/>
<path d="M252.1 345.4 L217.1 337.3 M252.1 345.4 L233.1 375.8" stroke="#9c9c9c" stroke-width="2.6" fill="none"/>
<path d="M251.0 340.0 L221.8 319.1 M251.0 340.0 L221.8 360.9" stroke="#9c9c9c" stroke-width="2.6" fill="none"/>
<path d="M252.1 334.6 L233.1 304.2 M252.1 334.6 L217.1 342.7" stroke="#9c9c9c" stroke-width="2.6" fill="none"/>
<path d="M255.1 330.1 L249.2 294.7 M255.1 330.1 L219.7 324.2" stroke="#9c9c9c" stroke-width="2.6" fill="none"/>
<path d="M259.6 327.1 L267.7 292.1 M259.6 327.1 L229.2 308.1" stroke="#9c9c9c" stroke-width="2.6" fill="none"/>
<path d="M265.0 326.0 L285.9 296.8 M265.0 326.0 L244.1 296.8" stroke="#9c9c9c" stroke-width="2.6" fill="none"/>
<path d="M270.4 327.1 L300.8 308.1 M270.4 327.1 L262.3 292.1" stroke="#9c9c9c" stroke-width="2.6" fill="none"/>
<path d="M274.9 330.1 L310.3 324.2 M274.9 330.1 L280.8 294.7" stroke="#9c9c9c" stroke-width="2.6" fill="none"/>
<path d="M277.9 334.6 L312.9 342.7 M277.9 334.6 L296.9 304.2" stroke="#9c9c9c" stroke-width="2.6" fill="none"/>
<circle cx="265" cy="340" r="16" fill="#a9a9a9" stroke="#6a6a6a" stroke-width="2"/>
<circle cx="271.4" cy="346.3" r="3" fill="#e0e0e0"/>
<circle cx="258.7" cy="346.4" r="3" fill="#e0e0e0"/>
<circle cx="258.6" cy="333.7" r="3" fill="#e0e0e0"/>
<circle cx="271.3" cy="333.6" r="3" fill="#e0e0e0"/>
<circle cx="865" cy="340" r="72" fill="#0b0b0b"/>
<circle cx="865" cy="340" r="69" fill="#3a3a35"/>
<circle cx="865" cy="340" r="55" fill="#151515"/>
<circle cx="865" cy="340" r="53" fill="#3a3a3a"/>
<circle cx="865" cy="340" r="51" fill="none" stroke="#b9b9b9" stroke-width="5"/>
<path d="M879.0 340.0 L908.2 360.9 M879.0 340.0 L908.2 319.1" stroke="#9c9c9c" stroke-width="2.6" fill="none"/>
<path d="M877.9 345.4 L896.9 375.8 M877.9 345.4 L912.9 337.3" stroke="#9c9c9c" stroke-width="2.6" fill="none"/>
<path d="M874.9 349.9 L880.8 385.3 M874.9 349.9 L910.3 355.8" stroke="#9c9c9c" stroke-width="2.6" fill="none"/>
<path d="M870.4 352.9 L862.3 387.9 M870.4 352.9 L900.8 371.9" stroke="#9c9c9c" stroke-width="2.6" fill="none"/>
<path d="M865.0 354.0 L844.1 383.2 M865.0 354.0 L885.9 383.2" stroke="#9c9c9c" stroke-width="2.6" fill="none"/>
<path d="M859.6 352.9 L829.2 371.9 M859.6 352.9 L867.7 387.9" stroke="#9c9c9c" stroke-width="2.6" fill="none"/>
<path d="M855.1 349.9 L819.7 355.8 M855.1 349.9 L849.2 385.3" stroke="#9c9c9c" stroke-width="2.6" fill="none"/>
<path d="M852.1 345.4 L817.1 337.3 M852.1 345.4 L833.1 375.8" stroke="#9c9c9c" stroke-width="2.6" fill="none"/>
<path d="M851.0 340.0 L821.8 319.1 M851.0 340.0 L821.8 360.9" stroke="#9c9c9c" stroke-width="2.6" fill="none"/>
<path d="M852.1 334.6 L833.1 304.2 M852.1 334.6 L817.1 342.7" stroke="#9c9c9c" stroke-width="2.6" fill="none"/>
<path d="M855.1 330.1 L849.2 294.7 M855.1 330.1 L819.7 324.2" stroke="#9c9c9c" stroke-width="2.6" fill="none"/>
<path d="M859.6 327.1 L867.7 292.1 M859.6 327.1 L829.2 308.1" stroke="#9c9c9c" stroke-width="2.6" fill="none"/>
<path d="M865.0 326.0 L885.9 296.8 M865.0 326.0 L844.1 296.8" stroke="#9c9c9c" stroke-width="2.6" fill="none"/>
<path d="M870.4 327.1 L900.8 308.1 M870.4 327.1 L862.3 292.1" stroke="#9c9c9c" stroke-width="2.6" fill="none"/>
<path d="M874.9 330.1 L910.3 324.2 M874.9 330.1 L880.8 294.7" stroke="#9c9c9c" stroke-width="2.6" fill="none"/>
<path d="M877.9 334.6 L912.9 342.7 M877.9 334.6 L896.9 304.2" stroke="#9c9c9c" stroke-width="2.6" fill="none"/>
<circle cx="865" cy="340" r="16" fill="#a9a9a9" stroke="#6a6a6a" stroke-width="2"/>
<circle cx="871.4" cy="346.3" r="3" fill="#e0e0e0"/>
<circle cx="858.7" cy="346.4" r="3" fill="#e0e0e0"/>
<circle cx="858.6" cy="333.7" r="3" fill="#e0e0e0"/>
<circle cx="871.3" cy="333.6" r="3" fill="#e0e0e0"/>

</g>
<g id="c_na">
<path d="M64 405 Q124.0 392.0 184 392.0 L932 392.0 Q992.0 392.0 1052 405 Q992.0 418.0 932 418.0 L184 418.0 Q124.0 418.0 64 405 Z" fill="#050505"/>
<path d="M372 190 L370 152 Q374 140 392 140 Q412 140 414 152 L416 192Z" fill="#3a3d3f" stroke="#111" stroke-width="2"/>
<path d="M380 186 L378 154 Q382 146 392 146 L392 188Z" fill="#55595c"/>
<path d="M560 124 L566 198 L644 196 Z" fill="#b3c1c1" stroke="#222" stroke-width="1.5"/>
<path d="M576 96 L722 182 L676 194 L590 120 Z" fill="#c3d2d2" stroke="#0a0a0a" stroke-width="2.5"/>
<path d="M596 110 L668 154 L650 166Z" fill="#dbe6e6"/>
<path d="M543 108 Q548 92 566 90 L580 98 L672 194 L640 194 L556 124 Z" fill="#141414" stroke="#0a0a0a" stroke-width="2"/>
<path d="M586 150 L592 196 M604 166 L608 196" fill="none" stroke="#6a7676" stroke-width="2.5"/>
<path d="M48 276 L56 268 L72 262 L72 216 L86 190 L160 180 L250 172 L370 182 L400 194 L700 194 L722 184 L850 190 L960 215 L1020 240 L1060 274 L1066 292 L1060 330 L1036 350 L960 356 L780 362 L350 364 L162 362 L150 346 L66 336 L50 310 Z" fill="#2b2c2b" stroke="#0a0a0a" stroke-width="3"/>
<path d="M88 192 L160 182 L250 174 L368 184 L300 186 L200 190 L100 204Z" fill="#45474a"/>
<path d="M724 186 L850 192 L958 217 L1016 242 L940 222 L850 204Z" fill="#484a4c"/>
<path d="M74 218 L400 206 L700 206 L850 210 L960 232 L1010 252 L960 250 L850 236 L700 232 L400 232 L180 240 L74 250Z" fill="#353736"/>
<path d="M50 300 L150 304 L150 346 L66 336 L50 310Z" fill="#1d1e1d"/>
<path d="M345 300 L785 300 L780 362 L350 364Z" fill="#222322"/>
<path d="M350 340 L780 338 L780 362 L350 364Z" fill="#191a19"/>
<path d="M345 298 L785 298" fill="none" stroke="#4a4c4e" stroke-width="2"/>
<path d="M960 300 L1066 296 L1060 330 L1036 350 L960 356Z" fill="#1f201f"/>
<path d="M172 362 Q168 252 258 250 Q344 252 348 364 Z" fill="#080808"/>
<path d="M780 362 Q778 252 868 250 Q956 252 960 356 Z" fill="#080808"/>
<path d="M172 362 Q168 252 258 250 Q344 252 348 364" fill="none" stroke="#4a4c4e" stroke-width="2"/>
<path d="M780 362 Q778 252 868 250 Q956 252 960 356" fill="none" stroke="#4a4c4e" stroke-width="2"/>
<path d="M170 300 Q184 232 258 228 Q330 232 350 300 L340 300 Q324 246 258 242 Q196 246 182 304Z" fill="#484a4a"/>
<path d="M776 304 Q792 232 868 228 Q940 232 962 290 L952 292 Q934 246 868 242 Q806 246 790 306Z" fill="#484a4a"/>
<path d="M400 198 L404 290 Q410 330 432 336 L694 336 L702 198" fill="none" stroke="#505254" stroke-width="2.5"/>
<path d="M414 222 Q418 214 432 214 L450 218 L450 228 L432 232 Q418 232 414 222Z" fill="#d8d9da" stroke="#333" stroke-width="1.5"/>
<path d="M428 220 L446 221 L446 226 L428 226Z" fill="#333"/>
<path d="M550 168 Q564 158 580 166 L588 190 L580 208 L566 210 L564 198 L552 192Z" fill="#141414" stroke="#000" stroke-width="1.5"/>
<path d="M74 224 Q88 212 104 222 Q110 238 102 250 Q88 258 74 250Z" fill="#e06a1a" stroke="#3a0a0a" stroke-width="2"/>
<path d="M74 238 L106 236 Q108 246 100 252 Q88 258 74 250Z" fill="#c0281c"/>
<path d="M80 224 Q90 218 100 226" fill="none" stroke="#f8b070" stroke-width="2.5"/>
<rect x="116" y="290" width="36" height="10" rx="3" fill="#d8281c"/>
<rect x="978" y="295" width="36" height="12" rx="4" fill="#f08a1c"/>
<ellipse cx="1040" cy="266" rx="14" ry="8" fill="#f4f6f4" stroke="#666" stroke-width="1.5"/>
<path d="M990 250 L1020 240 L1060 276" fill="none" stroke="#4a4c4e" stroke-width="2"/>
<path d="M960 290 L1064 286" fill="none" stroke="#454749" stroke-width="2"/>
<circle cx="258" cy="337" r="74" fill="#0b0b0b"/>
<circle cx="258" cy="337" r="71" fill="#2c2c2a"/>
<circle cx="258" cy="337" r="58" fill="#151515"/>
<circle cx="258" cy="337" r="56" fill="#cfcde0" stroke="#77758a" stroke-width="2"/>
<circle cx="258" cy="337" r="50" fill="#dad8e8"/>
<path d="M263.4 315.7 L264.7 292.5 Q278.4 294.7 288.6 304.0 L271.3 319.5 Z" fill="#17171a" stroke="#17171a" stroke-width="4" stroke-linejoin="round"/>
<path d="M278.0 327.9 L297.0 314.5 Q303.8 326.5 302.9 340.4 L280.0 336.5 Z" fill="#17171a" stroke="#17171a" stroke-width="4" stroke-linejoin="round"/>
<path d="M277.6 347.0 L299.9 353.4 Q294.7 366.3 283.3 374.2 L272.1 353.9 Z" fill="#17171a" stroke="#17171a" stroke-width="4" stroke-linejoin="round"/>
<path d="M262.4 358.6 L271.3 380.0 Q258.0 384.0 244.7 380.0 L253.6 358.6 Z" fill="#17171a" stroke="#17171a" stroke-width="4" stroke-linejoin="round"/>
<path d="M243.9 353.9 L232.7 374.2 Q221.3 366.3 216.1 353.4 L238.4 347.0 Z" fill="#17171a" stroke="#17171a" stroke-width="4" stroke-linejoin="round"/>
<path d="M236.0 336.5 L213.1 340.4 Q212.2 326.5 219.0 314.5 L238.0 327.9 Z" fill="#17171a" stroke="#17171a" stroke-width="4" stroke-linejoin="round"/>
<path d="M244.7 319.5 L227.4 304.0 Q237.6 294.7 251.3 292.5 L252.6 315.7 Z" fill="#17171a" stroke="#17171a" stroke-width="4" stroke-linejoin="round"/>
<circle cx="258" cy="337" r="15" fill="#c4c2d4" stroke="#8a88a0" stroke-width="2"/>
<circle cx="258" cy="337" r="7" fill="#9d9bb0"/>
<circle cx="868" cy="337" r="74" fill="#0b0b0b"/>
<circle cx="868" cy="337" r="71" fill="#2c2c2a"/>
<circle cx="868" cy="337" r="58" fill="#151515"/>
<circle cx="868" cy="337" r="56" fill="#cfcde0" stroke="#77758a" stroke-width="2"/>
<circle cx="868" cy="337" r="50" fill="#dad8e8"/>
<path d="M873.4 315.7 L874.7 292.5 Q888.4 294.7 898.6 304.0 L881.3 319.5 Z" fill="#17171a" stroke="#17171a" stroke-width="4" stroke-linejoin="round"/>
<path d="M888.0 327.9 L907.0 314.5 Q913.8 326.5 912.9 340.4 L890.0 336.5 Z" fill="#17171a" stroke="#17171a" stroke-width="4" stroke-linejoin="round"/>
<path d="M887.6 347.0 L909.9 353.4 Q904.7 366.3 893.3 374.2 L882.1 353.9 Z" fill="#17171a" stroke="#17171a" stroke-width="4" stroke-linejoin="round"/>
<path d="M872.4 358.6 L881.3 380.0 Q868.0 384.0 854.7 380.0 L863.6 358.6 Z" fill="#17171a" stroke="#17171a" stroke-width="4" stroke-linejoin="round"/>
<path d="M853.9 353.9 L842.7 374.2 Q831.3 366.3 826.1 353.4 L848.4 347.0 Z" fill="#17171a" stroke="#17171a" stroke-width="4" stroke-linejoin="round"/>
<path d="M846.0 336.5 L823.1 340.4 Q822.2 326.5 829.0 314.5 L848.0 327.9 Z" fill="#17171a" stroke="#17171a" stroke-width="4" stroke-linejoin="round"/>
<path d="M854.7 319.5 L837.4 304.0 Q847.6 294.7 861.3 292.5 L862.6 315.7 Z" fill="#17171a" stroke="#17171a" stroke-width="4" stroke-linejoin="round"/>
<circle cx="868" cy="337" r="15" fill="#c4c2d4" stroke="#8a88a0" stroke-width="2"/>
<circle cx="868" cy="337" r="7" fill="#9d9bb0"/>

</g>
<g id="c_truck">
<path d="M62 380 Q97.0 376.0 132 376.0 L962 376.0 Q997.0 376.0 1032 380 Q997.0 384.0 962 384.0 L132 384.0 Q97.0 384.0 62 380 Z" fill="#050505"/>
<path d="M56 200 L62 154 L70 148 L466 150 L470 82 L486 44 L502 35 L640 38 L662 50 L742 146 L870 152 L986 165 L1010 186 L1016 240 L1016 296 L940 300 L790 326 L330 326 L180 310 L120 306 L58 296 Z" fill="#e06e1a" stroke="#1a1a1a" stroke-width="3"/>
<path d="M64 154 L70 150 L466 152 L466 170 L64 170Z" fill="#ec8a3a"/>
<path d="M744 148 L870 154 L984 167 L1006 186 L900 178 L744 176Z" fill="#f09a50"/>
<path d="M488 46 L502 38 L640 41 L658 52 L640 50 L505 48Z" fill="#f4a862"/>
<path d="M58 268 L180 270 L180 310 L120 306 L58 296Z" fill="#c25c12"/>
<path d="M340 276 L790 280 L790 326 L330 326Z" fill="#c96214"/>
<path d="M340 300 L790 302 L790 326 L330 326Z" fill="#b85610"/>
<path d="M940 268 L1016 266 L1016 296 L940 300Z" fill="#c25c12"/>
<path d="M60 170 L212 169 L224 180 L600 183 L980 187 Q996 196 980 206 L600 202 L58 198Z" fill="#f4f2ea"/>
<path d="M160 314 L164 290 Q174 244 206 229 L318 229 Q352 240 360 300 L364 326 Z" fill="#101010"/>
<path d="M160 314 L164 290 Q174 244 206 229 L318 229 Q352 240 360 300 L364 326" fill="none" stroke="#f09a50" stroke-width="3"/>
<path d="M764 326 L768 290 Q778 244 808 229 L918 229 Q950 240 956 300 Z" fill="#101010"/>
<path d="M764 326 L768 290 Q778 244 808 229 L918 229 Q950 240 956 300" fill="none" stroke="#f09a50" stroke-width="3"/>
<path d="M100 152 L103 160" fill="none" stroke="#3a1a06" stroke-width="3"/>
<path d="M180 152 L183 160" fill="none" stroke="#3a1a06" stroke-width="3"/>
<path d="M260 152 L263 160" fill="none" stroke="#3a1a06" stroke-width="3"/>
<path d="M340 152 L343 160" fill="none" stroke="#3a1a06" stroke-width="3"/>
<path d="M425 152 L428 160" fill="none" stroke="#3a1a06" stroke-width="3"/>
<path d="M62 154 L466 152" fill="none" stroke="#3a1a06" stroke-width="2"/>
<path d="M468 150 L470 322" fill="none" stroke="#141414" stroke-width="4"/>
<path d="M508 62 Q508 56 516 56 L624 58 L692 146 L514 150 Z" fill="#1e2224" stroke="#111" stroke-width="2"/>
<path d="M520 68 L614 68 L638 140 L522 142 Z" fill="#c3d2d2"/>
<path d="M634 78 L684 144 L648 144 Z" fill="#c3d2d2"/>
<path d="M650 46 L664 50 L744 146 L720 149 Z" fill="#cfdede" stroke="#151515" stroke-width="2.5"/>
<path d="M664 50 L744 146" fill="none" stroke="#151515" stroke-width="4"/>
<path d="M490 164 L492 300 Q494 312 504 312 L706 312 Q716 300 718 166" fill="none" stroke="#4a2006" stroke-width="2.5"/>
<rect x="500" y="160" width="46" height="11" rx="4" fill="#d4d6d6" stroke="#333" stroke-width="2"/>
<circle cx="516" cy="212" r="4" fill="#aaa" stroke="#333" stroke-width="1.5"/>
<path d="M632 136 Q634 128 642 130 L646 158 L636 158Z" fill="#d8dada" stroke="#222" stroke-width="2"/>
<path d="M646 150 L672 156 L670 162 L646 158Z" fill="#9a9c9c" stroke="#222" stroke-width="1.5"/>
<rect x="944" y="215" width="32" height="13" rx="4" fill="#f08a1c" stroke="#6a3008" stroke-width="1.5"/>
<rect x="86" y="270" width="20" height="10" rx="3" fill="#d8281c"/>
<path d="M1004 190 L1014 188 L1018 262 L1008 264Z" fill="#dfe1e1" stroke="#333" stroke-width="1.5"/>
<path d="M40 270 Q40 264 48 264 L74 266 L76 304 L50 304 Q40 300 40 290Z" fill="#d6d8d8" stroke="#222" stroke-width="2.5"/>
<path d="M46 286 L74 286 L74 300 L50 300Z" fill="#8a8c8c"/>
<path d="M986 270 L1020 264 L1024 240 L1034 240 L1036 300 Q1034 314 1020 316 L990 316Z" fill="#d8dada" stroke="#222" stroke-width="2.5"/>
<path d="M990 296 L1032 292 L1030 310 L992 312Z" fill="#8a8c8c"/>
<circle cx="262" cy="310" r="72" fill="#0d0d0d"/>
<circle cx="262" cy="310" r="68" fill="#2c2c2a"/>
<circle cx="262" cy="310" r="57" fill="none" stroke="#e8e8e4" stroke-width="2.5"/>
<circle cx="262" cy="310" r="52" fill="#1a1a1a"/>
<circle cx="262" cy="310" r="50" fill="#d4d6d6" stroke="#8a8c8c" stroke-width="2"/>
<circle cx="262" cy="310" r="42" fill="#9c9e9e"/>
<circle cx="262" cy="310" r="39" fill="#c6c8c8"/>
<circle cx="288.8" cy="321.1" r="6" fill="#4a4c4c"/>
<circle cx="273.1" cy="336.8" r="6" fill="#4a4c4c"/>
<circle cx="250.9" cy="336.8" r="6" fill="#4a4c4c"/>
<circle cx="235.2" cy="321.1" r="6" fill="#4a4c4c"/>
<circle cx="235.2" cy="298.9" r="6" fill="#4a4c4c"/>
<circle cx="250.9" cy="283.2" r="6" fill="#4a4c4c"/>
<circle cx="273.1" cy="283.2" r="6" fill="#4a4c4c"/>
<circle cx="288.8" cy="298.9" r="6" fill="#4a4c4c"/>
<circle cx="262" cy="310" r="16" fill="#c4c6c6" stroke="#7a7c7c" stroke-width="2"/>
<circle cx="262" cy="310" r="6" fill="#e08a2a"/>
<circle cx="862" cy="310" r="72" fill="#0d0d0d"/>
<circle cx="862" cy="310" r="68" fill="#2c2c2a"/>
<circle cx="862" cy="310" r="57" fill="none" stroke="#e8e8e4" stroke-width="2.5"/>
<circle cx="862" cy="310" r="52" fill="#1a1a1a"/>
<circle cx="862" cy="310" r="50" fill="#d4d6d6" stroke="#8a8c8c" stroke-width="2"/>
<circle cx="862" cy="310" r="42" fill="#9c9e9e"/>
<circle cx="862" cy="310" r="39" fill="#c6c8c8"/>
<circle cx="888.8" cy="321.1" r="6" fill="#4a4c4c"/>
<circle cx="873.1" cy="336.8" r="6" fill="#4a4c4c"/>
<circle cx="850.9" cy="336.8" r="6" fill="#4a4c4c"/>
<circle cx="835.2" cy="321.1" r="6" fill="#4a4c4c"/>
<circle cx="835.2" cy="298.9" r="6" fill="#4a4c4c"/>
<circle cx="850.9" cy="283.2" r="6" fill="#4a4c4c"/>
<circle cx="873.1" cy="283.2" r="6" fill="#4a4c4c"/>
<circle cx="888.8" cy="298.9" r="6" fill="#4a4c4c"/>
<circle cx="862" cy="310" r="16" fill="#c4c6c6" stroke="#7a7c7c" stroke-width="2"/>
<circle cx="862" cy="310" r="6" fill="#e08a2a"/>

</g>

</defs>
<g fill="none" stroke="#000" stroke-width="4" stroke-linejoin="miter">
<path d="M345 176H400V326H335M400 251H452"/>
<path d="M345 476H400V626H318M400 551H452"/>
<path d="M345 776H400V926H350M400 851H455"/>
<path d="M345 1076H400V1226H360M400 1151H452"/>
<path d="M625 279V546M625 403H676"/>
<path d="M625 879V1132M625 1000H676"/>
<path d="M850 432V978M850 701H1050"/>
</g>
<g fill="#060606">
<path d="M800.6 57.6H831.1V61.4H819.3V101H812.4V61.4H800.6Z"/>
<path d="M844.7 57.8H851.7V75.9H874.4V57.8H881.1V101H874.4V79.5H851.7V101H844.7Z"/>
<path d="M898.5 57.8H920.4V61.5H905.1V76.7H918.6V80.2H905.1V97.3H921L922.8 96.4L921.8 101H898.5Z"/>
<path d="M959.6 57.7H982.4V61.4H966.7V77.5H980.7V81.1H966.7V101H959.6Z"/>
<path fill-rule="evenodd" d="M988.1 100.9L1007.3 57.9H1011.9L1029.7 100.9H1022.1L1016.6 84.3H999.6L993 100.9ZM1007.5 65.7L1001.5 80.1H1015Z"/>
<path d="M1034.6 57.9H1043L1056.4 92.6L1069.4 57.9H1074.4L1057.3 100.9H1052.2Z"/>
</g>
<use href="#c_mpv" transform="translate(120,110) scale(0.22222)"/>
<use href="#c_nc" transform="translate(120,270) scale(0.22222)"/>
<use href="#c_nc" transform="translate(436.4,195.7) scale(0.22222)"/>
<use href="#c_cosmo" transform="translate(120,410) scale(0.22222)"/>
<use href="#c_cosmo" transform="translate(432.9,490.4) scale(0.22222)"/>
<use href="#c_cosmo" transform="translate(658.4,341.1) scale(0.22222)"/>
<use href="#c_r360" transform="translate(120,560) scale(0.22222)"/>
<use href="#c_p5" transform="translate(120,710) scale(0.22222)"/>
<use href="#c_rx7" transform="translate(120,860) scale(0.22222)"/>
<use href="#c_rx7" transform="translate(436,787.8) scale(0.22222)"/>
<use href="#c_na" transform="translate(120,1010) scale(0.22222)"/>
<use href="#c_na" transform="translate(437.1,1082.9) scale(0.22222)"/>
<use href="#c_na" transform="translate(661,930.9) scale(0.22222)"/>
<use href="#c_truck" transform="translate(120,1160) scale(0.24073)"/>

</svg>
</body></html>
